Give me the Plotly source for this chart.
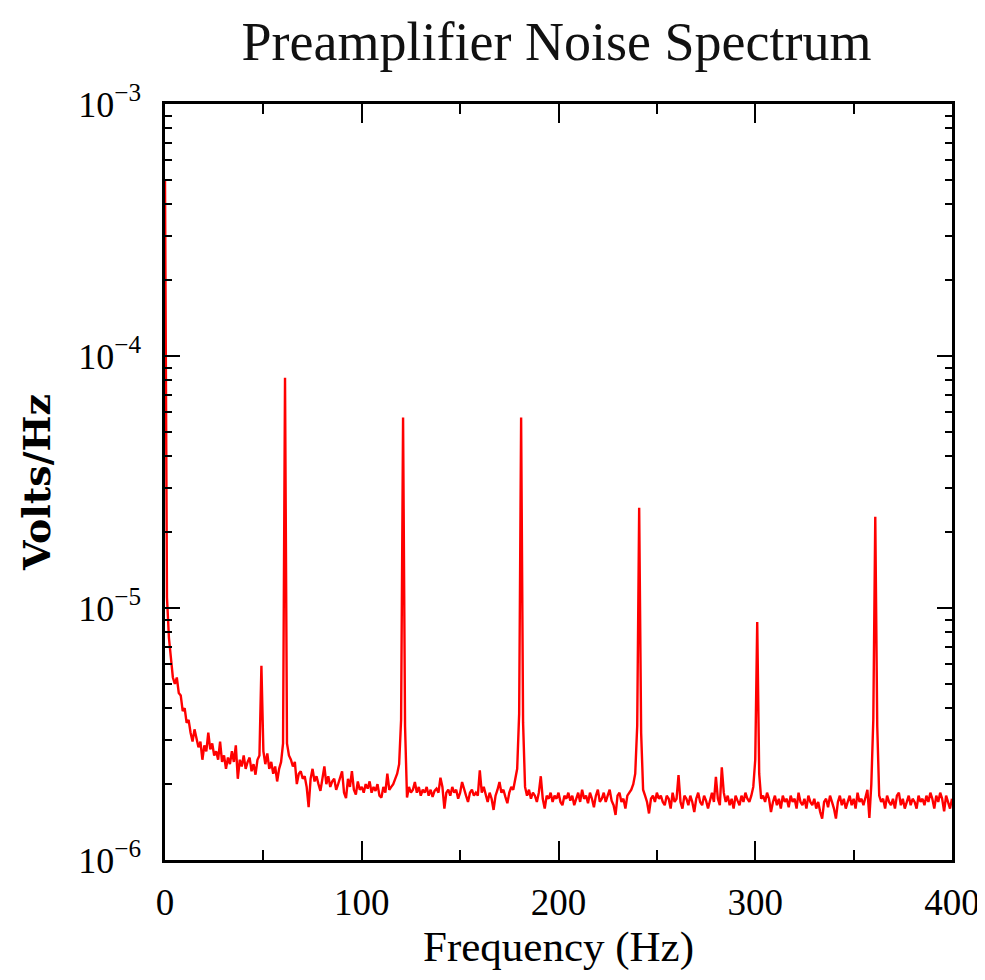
import plotly.graph_objects as go

# Frequency grid (Hz)
freq_start = 0
freq_step = 1
# Spectrum values in microvolts/Hz, one per Hz from 0 to 400 Hz
spectrum_uv = [
    500, 11.0, 7.6, 6.3, 5.3, 5.0, 5.3, 4.6, 4.5, 3.9,
    4.0, 3.5, 3.6, 3.2, 2.95, 3.3, 3.0, 2.8, 2.95, 2.5,
    2.85, 2.7, 3.2, 2.75, 2.9, 2.6, 2.7, 2.5, 2.95, 2.45,
    2.6, 2.3, 2.55, 2.4, 2.7, 2.45, 2.85, 2.1, 2.5, 2.35,
    2.6, 2.3, 2.45, 2.55, 2.25, 2.4, 2.18, 2.5, 2.6, 5.9,
    2.7, 2.4, 2.65, 2.3, 2.45, 2.2, 2.35, 2.05, 2.3, 2.45,
    2.9, 82, 2.9, 2.6, 2.5, 2.35, 2.45, 2.0, 2.2, 2.25,
    2.1, 2.15, 1.95, 1.62, 2.1, 2.3, 2.05, 2.15, 2.0, 1.88,
    2.1, 2.35, 2.0, 2.15, 1.95, 2.05, 2.1, 1.9, 2.0, 2.15,
    2.25, 1.85, 1.76, 2.1, 1.95, 2.25, 1.9, 1.82, 2.05, 1.9,
    1.95, 1.85, 2.0, 1.92, 2.05, 1.85, 1.95, 1.88, 2.0, 1.8,
    1.77, 1.95, 1.85, 2.2, 1.9, 1.95, 2.0, 2.1, 2.2, 2.4,
    3.6, 57, 3.4, 1.77, 1.95, 1.85, 1.9, 2.04, 1.85, 1.95,
    1.8, 1.9, 1.85, 1.95, 1.8, 1.9, 1.78, 1.88, 1.92, 1.85,
    2.12, 1.95, 1.6, 1.85, 1.9, 1.8, 1.95, 1.85, 1.9, 1.75,
    1.85, 2.04, 1.9, 1.8, 1.7, 1.85, 1.9, 1.8, 1.85, 1.8,
    2.27, 1.85, 1.95, 1.8, 1.7, 1.85, 1.75, 1.58, 1.8, 1.9,
    2.04, 1.85, 1.9, 1.78, 1.68, 1.85, 1.95, 1.9, 2.1, 2.3,
    3.8, 57, 3.5, 1.95, 1.8, 1.9, 1.75, 1.85, 1.8, 1.7,
    1.85, 2.15, 1.75, 1.6, 1.8, 1.75, 1.85, 1.7, 1.8, 1.75,
    1.85, 1.7, 1.65, 1.8, 1.75, 1.85, 1.72, 1.8, 1.65, 1.75,
    1.85, 1.7, 1.9, 1.75, 1.8, 1.68, 1.85, 1.75, 1.62, 1.8,
    1.9, 1.7, 1.75, 1.85, 1.7, 1.8, 1.9, 1.72, 1.65, 1.51,
    1.8, 1.85, 1.7, 1.75, 1.6, 1.8, 1.85, 1.9, 2.0, 2.2,
    3.4, 25, 3.2, 1.9, 1.8, 1.7, 1.53, 1.75, 1.8, 1.7,
    1.85, 1.75, 1.8, 1.7, 1.65, 1.8, 1.75, 1.6, 1.85, 1.7,
    1.75, 2.17, 1.7, 1.6, 1.8, 1.75, 1.65, 1.8, 1.7, 1.55,
    1.75, 1.85, 1.7, 1.65, 1.8, 1.72, 1.6, 1.75, 1.85, 1.7,
    2.14, 1.75, 1.65, 2.33, 1.85, 1.7, 1.8, 1.65, 1.75, 1.6,
    1.8, 1.72, 1.65, 1.8, 1.7, 1.85, 1.75, 1.7, 1.8, 1.95,
    2.5, 8.8, 2.2, 1.75, 1.8, 1.7, 1.85, 1.75, 1.55, 1.7,
    1.8, 1.65, 1.75, 1.6, 1.8, 1.7, 1.75, 1.62, 1.8, 1.7,
    1.75, 1.6, 1.85, 1.7, 1.65, 1.75, 1.6, 1.8, 1.7, 1.65,
    1.75, 1.6, 1.7, 1.55, 1.46, 1.7, 1.75, 1.62, 1.8, 1.7,
    1.6, 1.46, 1.7, 1.8, 1.65, 1.75, 1.6, 1.7, 1.8, 1.65,
    1.75, 1.6, 1.85, 1.7, 1.75, 1.65, 1.8, 1.9, 1.47, 2.0,
    3.6, 23, 3.4, 1.8, 1.7, 1.75, 1.6, 1.8, 1.7, 1.65,
    1.75, 1.6, 1.8, 1.85, 1.65, 1.75, 1.6, 1.7, 1.8, 1.65,
    1.75, 1.7, 1.6, 1.8, 1.7, 1.75, 1.65, 1.8, 1.7, 1.85,
    1.75, 1.6, 1.8, 1.7, 1.85, 1.75, 1.56, 1.8, 1.7, 1.6,
    1.75,
]

x_ticks = [0, 100, 200, 300, 400]
y_tick_exponents = [-6, -5, -4, -3]

title_text = "Preamplifier Noise Spectrum"
x_title = "Frequency (Hz)"
y_title = "Volts/Hz"

freqs = [freq_start + i * freq_step for i in range(len(spectrum_uv))]
volts = [v * 1e-6 for v in spectrum_uv]

y_tickvals = [10.0 ** e for e in y_tick_exponents]
y_ticktext = ["10<sup>\u2212%d</sup>" % (-e) for e in y_tick_exponents]
y_minor = [m * 10.0 ** e for e in y_tick_exponents[:-1] for m in range(2, 10)]

SERIF = "Liberation Serif"

fig = go.Figure()
fig.add_trace(go.Scatter(
    x=freqs, y=volts, mode="lines",
    line=dict(color="#ff0000", width=2.4),
    hoverinfo="skip", showlegend=False,
))

# the page body adds an 8px margin, so the figure is 8px smaller each way
fig.update_layout(
    width=977, height=972,
    paper_bgcolor="white", plot_bgcolor="white",
    margin=dict(l=157, r=33, t=96, b=120),
    title=dict(text=title_text, x=0.5614, xanchor="center", y=0.966, yanchor="middle",
               font=dict(family=SERIF, size=54, color="#111111")),
    font=dict(family=SERIF, color="black"),
)

fig.update_xaxes(
    range=[0, 400], tickmode="array", tickvals=x_ticks,
    ticks="inside", ticklen=19, tickwidth=1.5, tickcolor="black",
    minor=dict(dtick=50, ticks="inside", ticklen=10, tickwidth=1.5, tickcolor="black", showgrid=False),
    showline=True, linewidth=2.5, linecolor="black", mirror="ticks",
    showgrid=False, zeroline=False, automargin=False,
    tickfont=dict(family=SERIF, size=37, color="black"),
    ticklabelstandoff=8,
    title=dict(text=x_title, font=dict(family=SERIF, size=43, color="black"), standoff=0),
)

fig.update_yaxes(
    type="log", range=[-6, -3], tickmode="array",
    tickvals=y_tickvals, ticktext=y_ticktext,
    ticks="inside", ticklen=15, tickwidth=2, tickcolor="black",
    minor=dict(tickvals=y_minor, ticks="inside", ticklen=7, tickwidth=2, tickcolor="black", showgrid=False),
    showline=True, linewidth=2.5, linecolor="black", mirror="ticks",
    showgrid=False, zeroline=False, automargin=False,
    tickfont=dict(family=SERIF, size=36, color="black"),
    ticklabelstandoff=14,
    title=dict(text="<b>" + y_title + "</b>", font=dict(family="DejaVu Serif", size=38, color="black"), standoff=16),
)

fig.write_html("out.html")
